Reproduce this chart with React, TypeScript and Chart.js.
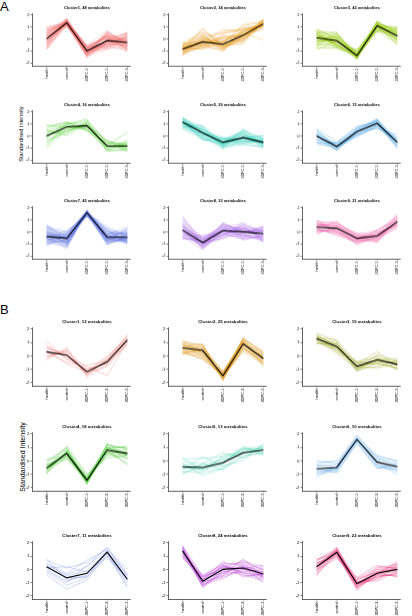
import React, { useEffect, useRef } from "react";
import { Chart, registerables } from "chart.js";

Chart.register(...registerables);

// Sample groups on the x axis and the fixed y ticks
const groups = ["health", "control", "JDPC-1", "JDPC-2", "JDPC-3"];
const yTicks = [-2, -1, 0, 1, 2];

// ---------- Panel A: standardised profiles of each metabolite, per cluster ----------
const aCluster1 = [
  [0.3,1.4,-1.1,0.2,-0.5],[-0.5,1.2,-0.8,0.1,0.4],[0.8,1.5,-1.3,-0.4,-0.6],[-0.2,1.3,-0.6,-0.7,0.1],
  [0.5,1.6,-1.2,0.4,-0.9],[-0.7,1.1,-0.9,-0.2,0.5],[0.1,1.4,-1.4,0.0,-0.2],[0.9,1.3,-0.7,-0.5,-1.0],
  [-0.3,1.5,-1.0,0.6,-0.4],[0.2,1.2,-1.5,-0.3,0.2],[-0.9,1.0,-0.8,0.3,-0.1],[0.6,1.7,-1.1,-0.8,-0.7],
  [0.0,1.4,-0.5,0.1,-0.8],[-0.4,1.3,-1.2,-0.6,0.6],[0.4,1.5,-0.9,0.5,-0.3],[-0.1,1.2,-1.3,-0.1,-1.1],
  [1.0,1.4,-1.0,-0.3,0.0],[-0.6,1.6,-0.7,0.2,-0.5],[0.3,1.1,-1.4,-0.9,0.3],[-0.2,1.5,-0.6,0.7,-0.6],
  [0.7,1.3,-1.2,0.0,-0.2],[-0.8,1.4,-1.0,-0.4,0.2],[0.1,1.6,-0.8,0.3,-0.9],[0.5,1.2,-1.6,-0.2,-0.4],
  [-0.3,1.3,-0.9,-0.6,0.4],[0.2,1.5,-1.1,0.4,-0.7],[-0.5,1.4,-1.3,-0.1,-0.1],[0.8,1.1,-0.7,-0.5,-0.5],
  [0.0,1.7,-1.0,0.1,0.5],[-0.1,1.3,-1.2,-0.8,-0.3],[0.4,1.4,-0.6,0.2,-1.0],[-0.7,1.2,-1.1,-0.3,0.1],
  [0.6,1.5,-1.4,0.5,-0.2],[-0.4,1.6,-0.8,-0.2,-0.8],[0.3,1.0,-1.0,-0.6,0.3],[-0.2,1.4,-1.5,0.0,-0.6],
  [0.9,1.3,-0.9,0.3,-0.4],[-0.6,1.5,-0.7,-0.4,0.0],[0.1,1.2,-1.3,0.6,-0.5],[0.5,1.4,-1.1,-0.7,-0.1],
  [-0.3,1.6,-0.6,0.1,-0.9],[0.2,1.3,-1.2,-0.1,0.4],[-0.9,1.4,-1.0,-0.5,-0.2],[0.7,1.1,-0.8,0.2,-0.7],
  [0.0,1.5,-1.4,-0.3,0.2],[-0.5,1.3,-0.9,0.4,-0.4],[0.4,1.6,-1.1,-0.2,-0.6],[-0.1,1.2,-1.2,0.0,0.1],
];
const aCluster2 = [
  [-0.9,-0.1,-0.6,0.4,1.3],[-1.3,-0.6,-0.2,0.1,1.5],[-0.5,0.3,-0.8,0.7,1.1],[-1.0,-0.4,0.1,-0.2,1.4],
  [-0.7,0.8,-0.5,0.5,1.0],[-1.2,-0.7,-0.9,0.2,1.6],[-0.4,-0.2,0.6,0.9,1.2],[-0.8,0.1,-0.3,-0.1,1.3],
  [-1.1,-0.5,-1.0,0.6,1.5],[-0.6,-0.3,0.2,0.3,0.8],[-1.4,0.2,-0.7,0.0,1.2],[-0.9,-0.8,-0.4,1.1,1.4],
  [-0.3,0.5,-0.1,0.4,1.0],[-1.0,-0.1,-0.6,-0.3,1.7],[-0.7,-0.6,0.4,0.8,1.1],[-1.2,0.0,-0.8,0.2,1.3],
  [-0.8,-0.4,-0.2,0.5,-0.1],[-0.5,0.6,-0.5,-0.2,1.5],[-1.1,-0.2,0.8,0.6,1.2],[-0.9,-0.7,-0.3,0.1,1.4],
  [-0.6,0.3,-1.1,0.9,1.0],[-1.3,-0.5,0.0,0.3,1.6],[-0.8,0.1,-0.6,-0.4,1.3],[-0.4,-0.3,-0.2,0.7,1.1],
  [-1.0,0.9,-0.7,0.4,1.4],[-0.7,-0.9,0.3,0.0,1.2],[-1.2,-0.1,-0.4,1.2,1.5],[-0.9,0.4,-0.9,0.2,0.9],
  [-0.5,-0.6,0.1,0.5,1.3],[-1.1,-0.2,-0.5,-0.1,1.6],[-0.8,0.2,0.5,0.8,1.2],[-0.6,-0.4,-0.8,0.3,1.4],
  [-1.0,0.0,-0.3,0.6,1.1],[-0.7,-0.5,-0.6,0.1,1.5],
];
const aCluster3 = [
  [0.3,-0.1,-1.5,1.2,0.4],[-0.5,-0.6,-1.3,0.9,0.0],[0.7,0.4,-1.6,1.3,0.8],[0.0,-0.3,-1.2,1.0,-0.3],
  [0.5,0.1,-1.4,1.4,0.6],[-0.8,-0.7,-1.1,0.7,0.2],[0.2,0.5,-1.7,1.1,-0.5],[-0.2,-0.2,-1.3,1.2,0.9],
  [0.6,-0.5,-1.5,0.8,0.3],[-0.4,0.2,-1.0,1.3,-0.1],[0.8,-0.1,-1.4,1.0,0.5],[0.1,-0.8,-1.6,1.5,0.1],
  [-0.6,0.3,-1.2,1.1,0.7],[0.4,-0.4,-1.5,0.6,-0.4],[-0.1,0.0,-1.3,1.2,0.4],[0.3,-0.6,-0.9,1.3,0.0],
  [-0.9,-0.2,-1.4,0.9,0.6],[0.5,0.6,-1.6,1.4,-0.2],[0.0,-0.3,-1.1,1.0,0.9],[-0.3,0.1,-1.5,1.2,0.2],
  [0.7,-0.7,-1.3,0.8,0.4],[0.2,-0.1,-1.7,1.5,-0.1],[-0.5,0.4,-1.2,1.1,0.5],[0.4,-0.5,-1.4,0.7,0.8],
  [-0.2,-0.2,-1.0,1.3,-0.3],[0.6,0.2,-1.5,1.0,0.3],[0.1,-0.4,-1.6,1.2,0.7],[-0.7,-0.8,-1.3,0.9,0.0],
  [0.3,0.0,-1.1,1.4,0.4],[-0.1,0.3,-1.4,1.1,-0.5],[0.5,-0.6,-1.5,0.6,0.6],[0.0,-0.1,-1.2,1.3,0.1],
  [-0.4,-0.5,-1.6,1.0,0.9],[0.8,0.1,-1.3,1.2,0.2],[0.2,-0.3,-0.9,0.8,-0.2],[-0.3,0.5,-1.4,1.5,0.5],
  [0.4,-0.7,-1.5,1.1,0.3],[-0.6,-0.2,-1.2,0.9,0.7],[0.1,0.2,-1.7,1.3,-0.1],[0.6,-0.4,-1.1,1.0,0.4],
  [-0.2,0.0,-1.4,1.2,1.0],[0.3,-0.5,-1.3,0.7,0.1],
];
const aCluster4 = [
  [0.4,1.0,1.2,-0.6,-0.9],[-0.6,0.5,0.7,-1.0,-0.7],[0.8,1.1,0.9,-0.4,-1.2],[-0.3,0.2,1.3,-1.2,-0.5],
  [0.2,0.9,0.5,-0.8,0.3],[-1.0,0.6,1.0,-0.9,-1.0],[0.6,1.2,0.4,-0.5,-0.8],[0.1,0.3,1.1,-1.3,-1.1],
  [-0.5,0.8,0.8,-0.7,-0.6],[0.9,0.7,0.6,-1.1,-0.9],[-0.2,1.0,1.4,-0.6,-1.3],[0.3,0.4,0.9,-1.0,-0.4],
  [-0.8,0.9,0.7,-0.8,-1.0],[0.5,0.0,1.1,-0.9,-0.7],[-0.1,1.1,0.5,-1.2,-1.2],[0.0,0.6,0.9,-0.4,-0.8],
];
const aCluster5 = [
  [1.3,0.4,-0.7,-0.2,-0.4],[0.8,-0.2,-0.3,0.3,-0.8],[1.5,0.7,-0.9,-0.5,-0.2],[1.0,0.1,-0.4,0.1,-0.9],
  [1.2,0.5,-1.0,-0.4,-0.6],[0.6,-0.3,-0.6,0.5,-0.3],[1.4,0.2,-0.2,-0.6,-1.0],[1.1,0.8,-0.8,0.0,-0.5],
  [0.9,-0.1,-0.5,-0.3,0.1],[1.6,0.3,-0.7,0.2,-0.7],[1.2,0.0,-1.1,-0.7,-0.4],[0.7,0.6,-0.4,-0.1,-0.8],
  [1.3,-0.4,-0.6,0.4,-0.2],[1.0,0.4,-0.9,-0.2,-0.6],[1.5,0.1,-0.3,-0.8,-0.9],[0.8,0.9,-0.5,0.0,-0.3],
  [1.2,-0.2,-0.8,0.3,-0.7],[1.4,0.3,-0.1,-0.4,-0.5],[1.0,0.6,-0.7,-0.1,0.0],[1.1,-0.1,-1.0,0.6,-0.8],
  [0.6,0.2,-0.5,-0.5,-0.4],[1.3,0.5,-0.6,0.1,-1.0],[0.9,0.0,-0.2,-0.3,-0.6],[1.5,0.4,-0.9,-0.6,-0.3],
  [1.2,-0.3,-0.4,0.2,-0.7],[0.8,0.7,-0.7,-0.2,-0.1],[1.4,0.1,-0.6,-0.4,-0.9],[1.0,0.3,-0.3,0.4,-0.5],
  [1.1,0.2,-0.8,-0.1,-0.4],
];
const aCluster6 = [
  [0.3,-0.7,0.5,1.2,-0.4],[-0.5,-1.1,0.1,0.8,-0.8],[0.6,-0.5,0.7,1.3,-0.2],[-0.2,-1.2,0.2,1.0,-1.0],
  [0.1,-0.8,0.6,1.4,-0.6],[-0.7,-0.9,-0.1,0.9,-0.3],[0.4,-1.0,0.4,0.6,0.1],[-0.3,-0.6,0.8,1.1,-0.7],
  [0.2,-1.1,0.3,1.3,-0.9],[-0.1,-0.7,0.0,0.7,-0.5],[0.5,-1.0,0.6,1.2,-1.1],[-0.4,-0.8,0.2,1.0,-0.4],
  [0.0,-1.2,0.5,0.9,-0.2],[-0.6,-0.6,0.4,1.4,-0.8],[0.1,-0.9,0.1,0.8,-0.6],
];
const aCluster7 = [
  [-0.2,-0.4,1.7,-0.3,-0.6],[-0.8,-0.9,1.5,-0.7,-0.2],[0.3,-0.1,1.6,0.1,-0.8],[-0.5,-1.2,1.8,-0.5,0.0],
  [0.0,-0.6,1.4,-0.9,-0.5],[-1.0,-0.3,1.7,-0.2,-0.9],[-0.3,-0.8,1.6,0.3,-0.3],[0.5,0.0,1.3,-0.6,0.2],
  [-0.6,-1.0,1.7,-0.4,-0.7],[-0.1,-0.5,1.5,-1.0,-0.4],[-0.9,-0.2,1.8,0.0,-0.1],[-0.4,-1.3,1.6,-0.5,-0.8],
  [0.2,-0.7,1.4,-0.8,0.3],[-0.7,-0.4,1.7,-0.3,-0.5],[-0.2,-0.9,1.5,0.2,-1.0],[0.4,-0.3,1.6,-0.7,-0.2],
  [-1.1,-0.6,1.8,-0.4,-0.6],[-0.5,0.1,1.4,-0.1,-0.3],[0.1,-1.1,1.7,-0.9,-0.7],[-0.3,-0.5,1.5,-0.6,0.1],
  [-0.8,-0.8,1.6,0.4,-0.4],[-0.1,-0.2,1.7,-0.5,-0.9],[0.6,-0.7,1.3,-0.2,-0.5],[-0.6,-1.4,1.8,-0.8,-0.2],
  [-0.4,-0.4,1.6,-0.3,-0.8],[0.0,-0.9,1.5,-1.1,-0.4],[-1.2,-0.1,1.7,-0.4,0.0],[-0.2,-0.6,1.4,0.0,-0.6],
  [0.3,-1.0,1.6,-0.6,-0.3],[-0.7,-0.3,1.8,-0.7,-0.7],[-0.5,-0.8,1.5,-0.2,0.4],[0.1,-0.5,1.7,-0.5,-0.5],
  [-0.9,-1.2,1.6,-0.9,-0.1],[-0.3,-0.2,1.3,0.2,-0.8],[0.4,-0.7,1.7,-0.4,-0.4],[-0.6,-0.4,1.5,-0.6,-1.0],
  [-0.1,-1.0,1.6,-0.1,-0.2],[-1.0,-0.6,1.8,-0.8,-0.6],[0.2,-0.3,1.4,-0.3,0.2],[-0.4,-0.9,1.7,-0.7,-0.7],
  [-0.8,0.0,1.5,0.1,-0.3],[0.0,-0.7,1.6,-0.5,-0.9],[-0.5,-1.1,1.7,-1.0,-0.4],[0.5,-0.5,1.4,-0.2,-0.1],
  [-0.2,-0.8,1.6,-0.6,-0.6],
];
const aCluster8 = [
  [0.4,-0.7,0.3,0.2,-0.3],[-0.3,-1.2,-0.2,-0.4,0.2],[0.9,-0.5,0.5,0.3,-0.6],[0.0,-1.0,-0.4,0.6,0.0],
  [0.6,-1.4,0.1,-0.2,-0.8],[-0.5,-0.8,0.7,0.0,0.4],[0.2,-0.6,-0.1,-0.6,-0.2],[1.2,-1.1,0.2,0.4,-0.5],
  [-0.2,-0.9,-0.5,-0.1,0.1],[0.5,-0.4,0.4,0.7,-0.9],[0.1,-1.3,0.0,-0.3,0.3],[-0.6,-0.7,0.6,0.1,-0.4],
  [0.8,-1.0,-0.3,-0.5,0.0],[0.3,-0.5,0.2,0.5,-0.7],[-0.1,-1.2,0.8,-0.2,0.5],[0.7,-0.8,-0.2,0.3,-0.1],
  [-0.4,-1.5,0.3,-0.7,-0.3],[1.0,-0.6,0.1,0.0,0.2],[0.0,-0.9,-0.6,0.4,-0.6],[0.4,-1.1,0.5,-0.4,0.1],
  [-0.3,-0.3,0.0,0.2,-0.8],[0.6,-1.0,0.4,-0.1,0.4],[0.2,-1.3,-0.4,0.6,-0.2],[-0.5,-0.7,0.2,-0.3,-0.5],
  [1.3,-0.8,-0.1,0.1,0.0],[0.1,-1.4,0.6,-0.6,-0.4],[-0.2,-0.5,0.0,0.3,0.3],[0.5,-1.2,0.3,-0.2,-0.7],
  [0.3,-0.6,-0.3,0.8,-0.1],[-0.4,-1.0,0.7,0.0,0.2],[0.7,-0.9,0.1,-0.4,-0.6],[0.0,-1.1,-0.2,0.2,-0.3],
  [0.2,-0.8,0.2,-0.1,0.1],
];
const aCluster9 = [
  [0.6,0.5,-0.4,-0.2,1.0],[0.1,0.0,-0.8,-0.6,0.6],[0.9,0.7,-0.2,0.1,1.3],[0.3,-0.2,-0.9,-0.4,0.7],
  [-0.1,0.4,-0.5,-0.8,1.1],[0.7,0.1,-1.1,-0.1,0.5],[0.4,0.8,-0.3,-0.5,1.4],[0.0,0.2,-0.7,0.2,0.9],
  [0.8,-0.1,-0.6,-0.7,0.4],[0.5,0.6,-0.1,-0.3,1.2],[0.2,0.3,-1.0,-0.5,0.8],[1.0,0.0,-0.4,0.0,0.6],
  [-0.2,0.5,-0.7,-0.9,1.0],[0.6,0.9,-0.5,-0.2,1.5],[0.3,-0.3,-0.8,-0.4,0.3],[0.7,0.4,-0.2,-0.6,0.9],
  [0.1,0.1,-0.9,0.1,1.1],[0.5,0.7,-0.6,-0.3,0.7],[0.9,0.2,-0.3,-0.8,1.3],[0.2,-0.1,-0.7,-0.1,0.5],
  [0.4,0.5,-0.5,-0.4,0.8],
];
// Cluster centres (black lines)
const aCenters = [
  [0.0, 1.35, -1.0, -0.15, -0.3],
  [-0.85, -0.25, -0.45, 0.3, 1.25],
  [0.1, -0.15, -1.4, 1.1, 0.25],
  [0.0, 0.75, 0.85, -0.85, -0.85],
  [1.15, 0.25, -0.55, -0.15, -0.55],
  [0.0, -0.9, 0.35, 1.05, -0.55],
  [-0.4, -0.55, 1.6, -0.45, -0.45],
  [0.15, -0.9, 0.1, 0.0, -0.15],
  [0.4, 0.3, -0.55, -0.35, 0.85],
];

// ---------- Panel B ----------
const bCluster1 = [
  [0.5,0.2,-1.3,-0.3,1.3],[1.1,-0.3,-1.0,-0.6,1.0],[-0.2,0.6,-1.5,-0.2,1.5],[0.3,-0.5,-0.8,-1.5,1.1],
  [0.0,0.3,-1.4,-0.5,0.8],[0.6,-0.1,-1.1,0.0,1.4],[-0.3,0.5,-1.6,-0.7,1.2],[0.8,-0.2,-0.7,-0.4,1.6],
  [0.2,0.1,-1.3,-0.8,0.9],[0.4,-0.6,-1.2,-0.1,1.3],[-0.1,0.4,-1.0,-0.6,1.1],[0.7,0.0,-1.4,-0.3,1.2],
];
const bCluster2 = [
  [0.8,0.5,-1.6,1.0,-0.1],[0.2,0.0,-1.3,0.6,-0.5],[1.1,0.8,-1.8,1.3,0.2],[0.5,0.3,-1.2,0.8,-0.6],
  [0.3,-0.2,-1.5,1.1,0.0],[0.9,0.7,-1.7,0.5,-0.3],[0.6,0.2,-1.4,1.2,0.4],[0.1,0.6,-1.6,0.7,-0.8],
  [1.0,0.1,-1.3,0.9,-0.2],[0.7,0.9,-1.9,1.4,0.1],[0.4,-0.3,-1.5,0.4,-0.4],[0.8,0.4,-1.1,1.0,-0.7],
  [0.2,0.5,-1.7,0.8,0.3],[1.2,0.2,-1.4,1.2,-0.1],[0.5,0.0,-1.6,0.6,-0.5],[0.6,0.7,-1.3,1.1,0.0],
  [0.3,0.3,-1.8,0.9,-0.3],[0.9,-0.1,-1.5,0.3,-0.6],[0.7,0.6,-1.2,1.3,0.2],[0.4,0.1,-1.6,0.7,-0.2],
  [1.0,0.8,-1.4,1.0,-0.4],[0.5,0.4,-1.7,0.5,0.1],[0.2,-0.2,-1.3,1.2,-0.7],[0.8,0.5,-1.5,0.8,-0.1],
  [0.6,0.3,-1.4,1.1,-0.3],
];
const bCluster3 = [
  [1.4,0.8,-0.9,-0.2,-0.6],[1.0,0.4,-0.6,-0.6,-0.9],[1.7,1.1,-1.1,0.1,-0.4],[1.2,0.5,-0.5,-0.4,-1.0],
  [0.9,0.9,-1.0,-0.8,-0.3],[1.5,0.3,-0.7,0.0,-0.7],[1.3,1.0,-1.2,-0.5,-0.5],[1.1,0.6,-0.4,-0.1,-1.1],
  [1.6,0.7,-0.8,-0.9,-0.6],[1.2,0.2,-1.0,-0.3,-0.2],[1.4,1.2,-0.6,0.3,-0.8],[1.0,0.6,-0.9,-0.4,-0.5],
  [1.5,0.8,-0.7,-0.6,-0.9],[1.3,0.5,-1.1,-0.2,-0.7],[1.2,0.9,-0.5,-0.5,-0.4],
];
const bCluster4 = [
  [-0.4,0.7,-1.5,0.9,0.6],[-0.9,0.3,-1.3,0.5,0.2],[-0.2,1.0,-1.7,1.2,0.9],[-0.6,0.4,-1.1,0.7,-0.2],
  [-1.0,0.8,-1.6,1.0,1.0],[-0.3,0.2,-1.4,0.4,0.5],[-0.7,0.6,-1.8,1.3,0.3],[0.0,0.9,-1.2,0.8,0.8],
  [-0.5,0.1,-1.5,0.6,0.6],[-0.8,0.7,-1.3,1.1,0.1],[-0.4,0.5,-1.6,0.9,1.1],[-0.6,1.1,-1.0,0.2,0.4],
  [0.1,0.4,-1.4,0.7,0.7],[-0.7,0.6,-1.7,1.0,0.5],[-0.3,0.3,-1.5,0.8,-0.3],[-0.9,0.8,-1.3,1.2,0.9],
  [-0.5,0.5,-1.6,0.6,0.6],[-0.6,0.6,-1.4,0.9,0.4],
];
const bCluster5 = [
  [-0.3,-0.4,0.0,0.7,0.9],[-0.8,-0.9,-0.5,0.3,0.6],[0.1,0.2,0.3,0.9,1.1],[-0.5,-0.6,-0.3,1.1,0.5],
  [-1.0,-0.2,0.6,0.2,1.2],[-0.2,-1.1,-0.6,0.8,0.8],[-0.6,-0.3,0.1,0.5,1.0],[0.2,-0.7,-0.2,1.0,0.4],
  [-0.7,0.3,-0.4,0.0,1.3],[-0.4,-0.8,0.4,0.6,0.7],[-0.9,-0.5,-0.1,0.9,0.9],[-0.1,-0.2,-0.7,0.4,0.6],
  [-0.5,-0.6,0.2,0.7,1.0],
];
const bCluster6 = [
  [-0.4,-0.3,1.7,0.1,-0.3],[-1.0,-0.8,1.4,-0.5,-0.7],[-0.2,0.0,1.8,0.4,0.0],[-0.7,-0.6,1.5,-0.2,-1.0],
  [-1.2,-0.4,1.9,0.2,-0.4],[-0.5,-0.9,1.3,-0.6,-0.2],[0.0,-0.2,1.6,0.0,-0.8],[-0.8,-0.7,1.7,-0.3,-0.5],
  [-0.3,-0.5,1.5,0.3,-0.1],[-0.9,-0.6,1.6,-0.4,-0.6],
];
const bCluster7 = [
  [0.4,-0.5,-0.1,1.4,-0.6],[-0.2,-1.2,-0.6,1.0,-1.2],[0.7,0.1,0.5,1.6,-0.3],[0.0,-0.9,-0.4,1.2,-1.0],
  [0.5,-0.3,0.7,1.5,0.0],[-0.4,-1.5,-0.8,1.1,-0.9],[0.3,-0.4,0.2,1.7,-0.5],[0.8,-0.8,-0.5,1.3,-1.4],
  [0.1,0.2,-0.2,0.9,-0.7],[-0.1,-1.0,0.3,1.4,-0.4],[0.2,-0.6,-0.6,1.3,-0.8],
];
const bCluster8 = [
  [1.5,-0.8,0.1,0.2,-0.3],[1.1,-1.2,-0.3,-0.2,-0.7],[1.8,-0.5,0.4,0.5,0.0],[1.3,-1.0,-0.5,0.0,-0.5],
  [0.9,-0.7,0.2,0.6,0.2],[1.6,-1.3,-0.1,-0.4,-0.9],[1.4,-0.6,0.5,0.3,-0.2],[1.2,-1.1,-0.6,-0.1,-0.6],
  [1.7,-0.9,0.0,0.7,-0.1],[1.0,-0.4,0.3,-0.3,-0.8],[1.5,-1.4,-0.2,0.1,0.3],[1.3,-0.8,0.6,-0.5,-0.4],
  [1.6,-1.0,-0.4,0.4,-0.6],[1.1,-0.6,0.1,0.0,-0.2],[1.8,-1.2,-0.7,0.2,-1.0],[1.4,-0.9,0.2,-0.2,0.0],
  [0.8,-0.5,-0.1,0.5,-0.5],[1.5,-1.1,0.4,-0.6,-0.3],[1.2,-0.7,-0.3,0.3,-0.7],[1.7,-1.3,0.0,0.1,0.1],
  [1.3,-0.8,0.3,-0.3,-0.4],[1.0,-1.0,-0.5,0.8,-0.6],[1.6,-0.6,0.2,0.0,-0.2],[1.4,-0.9,-0.2,0.2,-0.5],
];
const bCluster9 = [
  [0.4,1.4,-1.0,-0.2,0.1],[-0.2,1.0,-1.3,-0.6,-0.3],[0.7,1.6,-0.7,0.1,0.4],[0.1,1.2,-1.5,-0.4,-0.5],
  [-0.5,1.5,-1.1,-0.8,0.2],[0.5,0.9,-0.9,0.0,-0.1],[0.2,1.3,-1.4,-0.3,0.6],[-0.1,1.7,-1.2,-0.5,-0.4],
  [0.8,1.1,-0.6,0.3,0.0],[0.3,1.4,-1.0,-0.7,0.3],[-0.4,1.2,-1.6,-0.1,-0.2],[0.6,1.5,-1.1,-0.4,0.5],
  [0.0,0.8,-0.8,-0.2,-0.6],[0.4,1.3,-1.3,0.2,0.1],[-0.3,1.6,-1.0,-0.6,-0.3],[0.2,1.1,-1.2,-0.3,0.4],
  [0.7,1.4,-0.9,-0.9,-0.1],[-0.1,1.2,-1.4,0.0,0.2],[0.3,1.5,-1.1,-0.4,-0.5],[0.5,1.0,-0.7,-0.2,0.0],
  [0.0,1.3,-1.3,-0.5,0.3],[0.1,1.4,-1.0,-0.3,-0.2],
];
const bCenters = [
  [0.3, 0.05, -1.2, -0.45, 1.2],
  [0.6, 0.4, -1.5, 0.9, -0.2],
  [1.3, 0.7, -0.8, -0.3, -0.65],
  [-0.55, 0.55, -1.45, 0.8, 0.55],
  [-0.45, -0.5, -0.15, 0.6, 0.8],
  [-0.6, -0.5, 1.6, -0.1, -0.45],
  [0.2, -0.65, -0.3, 1.3, -0.75],
  [1.4, -0.9, 0.0, 0.1, -0.35],
  [0.2, 1.3, -1.1, -0.3, 0.0],
];

const panelAClusters = [aCluster1, aCluster2, aCluster3, aCluster4, aCluster5, aCluster6, aCluster7, aCluster8, aCluster9];
const panelBClusters = [bCluster1, bCluster2, bCluster3, bCluster4, bCluster5, bCluster6, bCluster7, bCluster8, bCluster9];

// ---------- styling / layout ----------
const FONT = '"Liberation Sans", Arial, sans-serif';
const paletteA = [
  "rgba(242,110,110,0.55)", "rgba(228,150,20,0.6)", "rgba(150,200,20,0.6)",
  "rgba(60,200,20,0.65)", "rgba(40,205,185,0.6)", "rgba(30,140,220,0.6)",
  "rgba(100,120,225,0.55)", "rgba(160,90,225,0.55)", "rgba(232,70,150,0.6)",
];
const paletteB = [
  "rgba(242,100,100,0.6)", "rgba(215,140,0,0.6)", "rgba(140,160,0,0.65)",
  "rgba(50,190,20,0.65)", "rgba(40,200,160,0.6)", "rgba(30,130,220,0.6)",
  "rgba(110,130,230,0.6)", "rgba(180,60,210,0.6)", "rgba(230,50,120,0.6)",
];
const Y_MIN = -2.25;
const Y_MAX = 2.15;
const COL_LEFT = [0, 136, 270];
const CANVAS_W = 136;
const AXIS_W = 32;
const TITLE_SPACE = 12;
const XLABEL_SPACE = 24;

const clusterTitle = {
  id: "clusterTitle",
  afterDraw(chart: any, _args: any, opts: any) {
    const { ctx, chartArea, scales } = chart;
    ctx.save();
    ctx.font = `bold ${opts.size}px ${FONT}`;
    ctx.fillStyle = "#000";
    ctx.textAlign = "center";
    ctx.textBaseline = "middle";
    ctx.fillText(opts.text, scales.x.getPixelForValue(2), chartArea.top - opts.gap);
    ctx.restore();
  },
};

type PlotProps = {
  members: number[][];
  center: number[];
  color: string;
  title: string;
  left: number;
  plotTop: number;
  plotH: number;
  fs: number;
};

function ClusterPlot({ members, center, color, title, left, plotTop, plotH, fs }: PlotProps) {
  const ref = useRef<HTMLCanvasElement | null>(null);
  const height = TITLE_SPACE + plotH + XLABEL_SPACE;

  useEffect(() => {
    if (!ref.current) return;
    const toPts = (row: number[]) => row.map((v, i) => ({ x: i, y: v }));
    const axisGrid = {
      display: true,
      drawOnChartArea: false,
      drawTicks: true,
      tickLength: 1.5,
      color: "#000",
      lineWidth: 0.5,
    };
    const axisBorder = { display: true, color: "#000", width: 0.6 };
    const chart = new Chart(ref.current, {
      type: "line",
      data: {
        datasets: [
          {
            data: toPts(center),
            borderColor: "#000",
            borderWidth: 1.1,
            pointRadius: 0,
          },
          ...members.map((m) => ({
            data: toPts(m),
            borderColor: color,
            borderWidth: 0.5,
            pointRadius: 0,
          })),
        ],
      },
      options: {
        animation: false,
        responsive: false,
        maintainAspectRatio: false,
        events: [],
        layout: { padding: { top: TITLE_SPACE, right: 6, left: 0, bottom: 0 } },
        plugins: {
          legend: { display: false },
          tooltip: { enabled: false },
          clusterTitle: { text: title, size: fs, gap: 5.5 },
        } as any,
        scales: {
          x: {
            type: "linear",
            min: -0.72,
            max: 4.13,
            afterBuildTicks: (s: any) => {
              s.ticks = groups.map((_, i) => ({ value: i }));
            },
            afterFit: (s: any) => {
              s.height = XLABEL_SPACE;
            },
            ticks: {
              autoSkip: false,
              minRotation: 90,
              maxRotation: 90,
              padding: 1,
              color: "#000",
              font: { size: fs - 0.3, family: FONT },
              callback: (v: any) => groups[v],
            },
            grid: axisGrid,
            border: axisBorder,
          },
          y: {
            type: "linear",
            min: Y_MIN,
            max: Y_MAX,
            afterBuildTicks: (s: any) => {
              s.ticks = yTicks.map((v) => ({ value: v }));
            },
            afterFit: (s: any) => {
              s.width = AXIS_W;
            },
            ticks: {
              padding: 1,
              color: "#000",
              font: { size: fs, family: FONT },
            },
            grid: axisGrid,
            border: axisBorder,
          },
        },
      } as any,
      plugins: [clusterTitle],
    });
    return () => chart.destroy();
  }, [members, center, color, title, plotH, fs]);

  return (
    <canvas
      ref={ref}
      width={CANVAS_W}
      height={height}
      style={{
        position: "absolute",
        left,
        top: plotTop - TITLE_SPACE,
        width: CANVAS_W,
        height,
      }}
    />
  );
}

type PanelProps = {
  letter: string;
  letterTop: number;
  clusters: number[][][];
  centers: number[][];
  palette: string[];
  rowTops: number[];
  unit: number;
  fs: number;
  yLabel: { x: number; y: number; size: number };
};

function Panel({ letter, letterTop, clusters, centers, palette, rowTops, unit, fs, yLabel }: PanelProps) {
  const plotH = (Y_MAX - Y_MIN) * unit;
  return (
    <>
      <div
        style={{
          position: "absolute",
          left: 0,
          top: letterTop,
          font: `13px ${FONT}`,
          lineHeight: 1,
          color: "#000",
        }}
      >
        {letter}
      </div>
      <div
        style={{
          position: "absolute",
          left: yLabel.x,
          top: yLabel.y,
          transform: "translate(-50%, -50%) rotate(-90deg)",
          font: `${yLabel.size}px ${FONT}`,
          whiteSpace: "nowrap",
          color: "#000",
          lineHeight: 1,
        }}
      >
        Standardised Intensity
      </div>
      {clusters.map((members, k) => (
        <ClusterPlot
          key={letter + k}
          members={members}
          center={centers[k]}
          color={palette[k]}
          title={`Cluster${k + 1}, ${members.length} metabolites`}
          left={COL_LEFT[k % 3]}
          plotTop={rowTops[Math.floor(k / 3)]}
          plotH={plotH}
          fs={fs}
        />
      ))}
    </>
  );
}

export default function App() {
  return (
    <div
      style={{
        position: "absolute",
        left: 0,
        top: 0,
        width: 412,
        height: 616,
        background: "#fff",
        overflow: "hidden",
      }}
    >
      <Panel
        letter="A"
        letterTop={0}
        clusters={panelAClusters}
        centers={aCenters}
        palette={paletteA}
        rowTops={[13.3, 110, 206.3]}
        unit={12}
        fs={4}
        yLabel={{ x: 21.5, y: 134, size: 5.6 }}
      />
      <Panel
        letter="B"
        letterTop={303}
        clusters={panelBClusters}
        centers={bCenters}
        palette={paletteB}
        rowTops={[327.3, 432.3, 540.7]}
        unit={13.3}
        fs={4.3}
        yLabel={{ x: 22, y: 457, size: 7 }}
      />
    </div>
  );
}
